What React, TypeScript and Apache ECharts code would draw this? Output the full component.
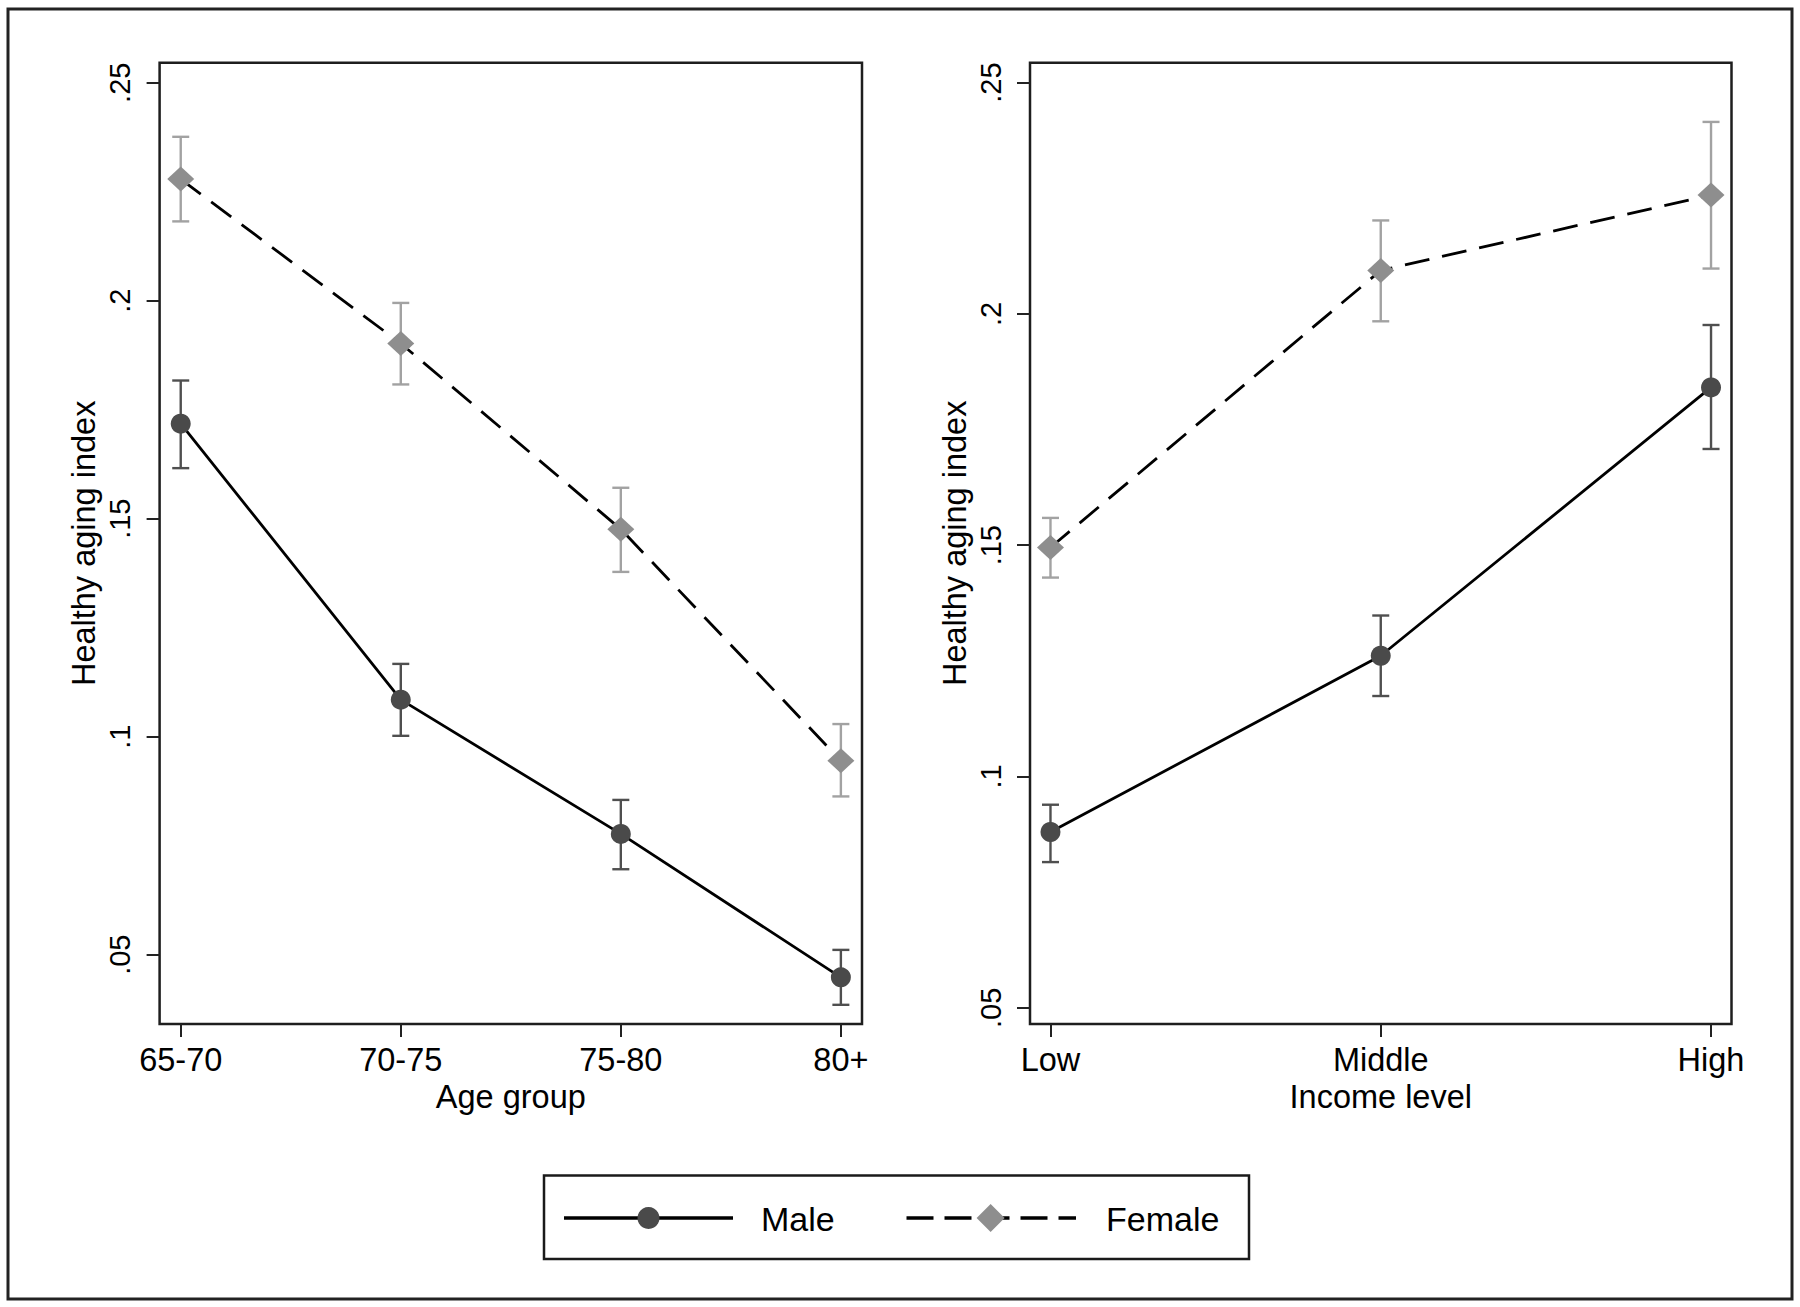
import React, { useEffect, useRef } from "react";
import * as echarts from "echarts";

const ageGroups = ["65-70", "70-75", "75-80", "80+"];
const incomeLevels = ["Low", "Middle", "High"];

const maleAge = [0.1718, 0.1085, 0.0777, 0.0448];
const maleAgeLo = [0.1616, 0.1002, 0.0696, 0.0385];
const maleAgeHi = [0.1817, 0.1167, 0.0855, 0.0511];
const femaleAge = [0.2279, 0.1902, 0.1476, 0.0945];
const femaleAgeLo = [0.2182, 0.1808, 0.1378, 0.0863];
const femaleAgeHi = [0.2376, 0.1995, 0.1571, 0.1029];

const maleInc = [0.088, 0.1261, 0.1841];
const maleIncLo = [0.0815, 0.1174, 0.1708];
const maleIncHi = [0.0939, 0.1348, 0.1976];
const femaleInc = [0.1495, 0.2094, 0.2257];
const femaleIncLo = [0.143, 0.1984, 0.2098];
const femaleIncHi = [0.1559, 0.2202, 0.2415];

const yTicks = [0.05, 0.1, 0.15, 0.2, 0.25];
const yTickLabels = [".05", ".1", ".15", ".2", ".25"];

const FONT = "'Liberation Sans', Arial, Helvetica, sans-serif";
const MALE_MARK = "#4a4a4a";
const FEMALE_MARK = "#8e8e8e";
const MALE_BAR = "#4f4f4f";
const FEMALE_BAR = "#a2a2a2";
const INK = "#000000";

function pts(vals: number[]) {
  return vals.map((v, i) => [i, v]);
}
function bars(lo: number[], hi: number[]) {
  return lo.map((l, i) => [i, l, hi[i]]);
}

function errorBarSeries(xi: number, data: number[][], color: string, z: number) {
  return {
    type: "custom",
    xAxisIndex: xi,
    yAxisIndex: xi,
    z,
    encode: { x: 0, y: [1, 2] },
    data,
    renderItem: (params: any, api: any) => {
      const x = api.value(0);
      const p1 = api.coord([x, api.value(1)]);
      const p2 = api.coord([x, api.value(2)]);
      const cw = 8.5;
      const style = { stroke: color, lineWidth: 2.4 };
      return {
        type: "group",
        children: [
          { type: "line", shape: { x1: p1[0], y1: p1[1], x2: p2[0], y2: p2[1] }, style },
          { type: "line", shape: { x1: p1[0] - cw, y1: p1[1], x2: p1[0] + cw, y2: p1[1] }, style },
          { type: "line", shape: { x1: p2[0] - cw, y1: p2[1], x2: p2[0] + cw, y2: p2[1] }, style },
        ],
      };
    },
  };
}

function lineSeries(xi: number, name: string, vals: number[], female: boolean) {
  return {
    type: "line",
    name,
    xAxisIndex: xi,
    yAxisIndex: xi,
    z: 5,
    data: pts(vals),
    symbol: female ? "diamond" : "circle",
    symbolSize: female ? [27, 25] : 20,
    itemStyle: { color: female ? FEMALE_MARK : MALE_MARK },
    lineStyle: {
      color: "#000",
      width: 2.8,
      type: female ? [25, 13] : "solid",
    },
  };
}

function xAxis(gi: number, cats: string[], pad: number, name: string) {
  return {
    type: "value",
    gridIndex: gi,
    min: -pad,
    max: cats.length - 1 + pad,
    name,
    nameLocation: "middle",
    nameGap: 56,
    nameTextStyle: { fontFamily: FONT, fontSize: 32.5, color: INK },
    axisLine: { show: false, onZero: false },
    splitLine: { show: false },
    axisTick: {
      show: true,
      inside: false,
      length: 13,
      customValues: cats.map((_, i) => i),
      lineStyle: { color: "#222", width: 2 },
    },
    axisLabel: {
      show: true,
      customValues: cats.map((_, i) => i),
      formatter: (v: number) => cats[Math.round(v)] ?? "",
      margin: 19,
      fontFamily: FONT,
      fontSize: 32.5,
      color: INK,
    },
  };
}

function yAxis(gi: number, min: number, max: number) {
  return {
    type: "value",
    gridIndex: gi,
    min,
    max,
    name: "Healthy aging index",
    nameLocation: "middle",
    nameRotate: 90,
    nameGap: 59,
    nameTextStyle: { fontFamily: FONT, fontSize: 32.5, color: INK },
    axisLine: { show: false, onZero: false },
    splitLine: { show: false },
    axisTick: {
      show: true,
      inside: false,
      length: 13,
      customValues: yTicks,
      lineStyle: { color: "#222", width: 2 },
    },
    axisLabel: {
      show: true,
      customValues: yTicks,
      rotate: 90,
      margin: 25,
      formatter: (v: number) => {
        const idx = yTicks.findIndex((t) => Math.abs(t - v) < 1e-9);
        return idx >= 0 ? yTickLabels[idx] : "";
      },
      fontFamily: FONT,
      fontSize: 29,
      color: INK,
    },
  };
}

export default function App() {
  const ref = useRef<HTMLDivElement>(null);

  useEffect(() => {
    if (!ref.current) return;
    const chart = echarts.init(ref.current, undefined, { renderer: "svg" });

    const legendY = 1218;
    const option: any = {
      animation: false,
      backgroundColor: "#ffffff",
      textStyle: { fontFamily: FONT },
      grid: [
        {
          left: 159.6,
          right: 938,
          top: 62.7,
          bottom: 283,
          show: true,
          borderColor: "#1e1e1e",
          borderWidth: 2.5,
          backgroundColor: "#ffffff",
        },
        {
          left: 1030,
          right: 68.5,
          top: 62.7,
          bottom: 283,
          show: true,
          borderColor: "#1e1e1e",
          borderWidth: 2.5,
          backgroundColor: "#ffffff",
        },
      ],
      xAxis: [
        xAxis(0, ageGroups, 0.096, "Age group"),
        xAxis(1, incomeLevels, 0.062, "Income level"),
      ],
      yAxis: [yAxis(0, 0.0341, 0.2546), yAxis(1, 0.0465, 0.2543)],
      series: [
        errorBarSeries(0, bars(maleAgeLo, maleAgeHi), MALE_BAR, 2),
        errorBarSeries(0, bars(femaleAgeLo, femaleAgeHi), FEMALE_BAR, 2),
        errorBarSeries(1, bars(maleIncLo, maleIncHi), MALE_BAR, 2),
        errorBarSeries(1, bars(femaleIncLo, femaleIncHi), FEMALE_BAR, 2),
        lineSeries(0, "Male", maleAge, false),
        lineSeries(0, "Female", femaleAge, true),
        lineSeries(1, "Male", maleInc, false),
        lineSeries(1, "Female", femaleInc, true),
      ],
      graphic: [
        {
          type: "rect",
          shape: { x: 8, y: 9, width: 1784, height: 1290 },
          style: { fill: "none", stroke: "#222", lineWidth: 3 },
          silent: true,
          z: 0,
        },
        {
          type: "rect",
          shape: { x: 544, y: 1175.5, width: 705, height: 83.5 },
          style: { fill: "#fff", stroke: "#1a1a1a", lineWidth: 2.5 },
          z: 1,
        },
        {
          type: "line",
          shape: { x1: 564, y1: legendY, x2: 733, y2: legendY },
          style: { stroke: "#000", lineWidth: 3.5 },
          z: 2,
        },
        {
          type: "circle",
          shape: { cx: 648.5, cy: legendY, r: 11 },
          style: { fill: MALE_MARK },
          z: 3,
        },
        {
          type: "text",
          x: 761,
          y: legendY + 1,
          style: {
            text: "Male",
            fontFamily: FONT,
            fontSize: 34,
            fill: INK,
            verticalAlign: "middle",
            align: "left",
          },
          z: 3,
        },
        {
          type: "line",
          shape: { x1: 906.5, y1: legendY, x2: 1076, y2: legendY },
          style: { stroke: "#000", lineWidth: 3.5, lineDash: [27, 11] },
          z: 2,
        },
        {
          type: "polygon",
          shape: {
            points: [
              [990.6, legendY - 14],
              [1004.6, legendY],
              [990.6, legendY + 14],
              [976.6, legendY],
            ],
          },
          style: { fill: FEMALE_MARK },
          z: 3,
        },
        {
          type: "text",
          x: 1106,
          y: legendY + 1,
          style: {
            text: "Female",
            fontFamily: FONT,
            fontSize: 34,
            fill: INK,
            verticalAlign: "middle",
            align: "left",
          },
          z: 3,
        },
      ],
    };

    chart.setOption(option);
    return () => {
      chart.dispose();
    };
  }, []);

  return (
    <div
      ref={ref}
      style={{
        position: "fixed",
        left: 0,
        top: 0,
        width: 1800,
        height: 1307,
        background: "#fff",
      }}
    />
  );
}
